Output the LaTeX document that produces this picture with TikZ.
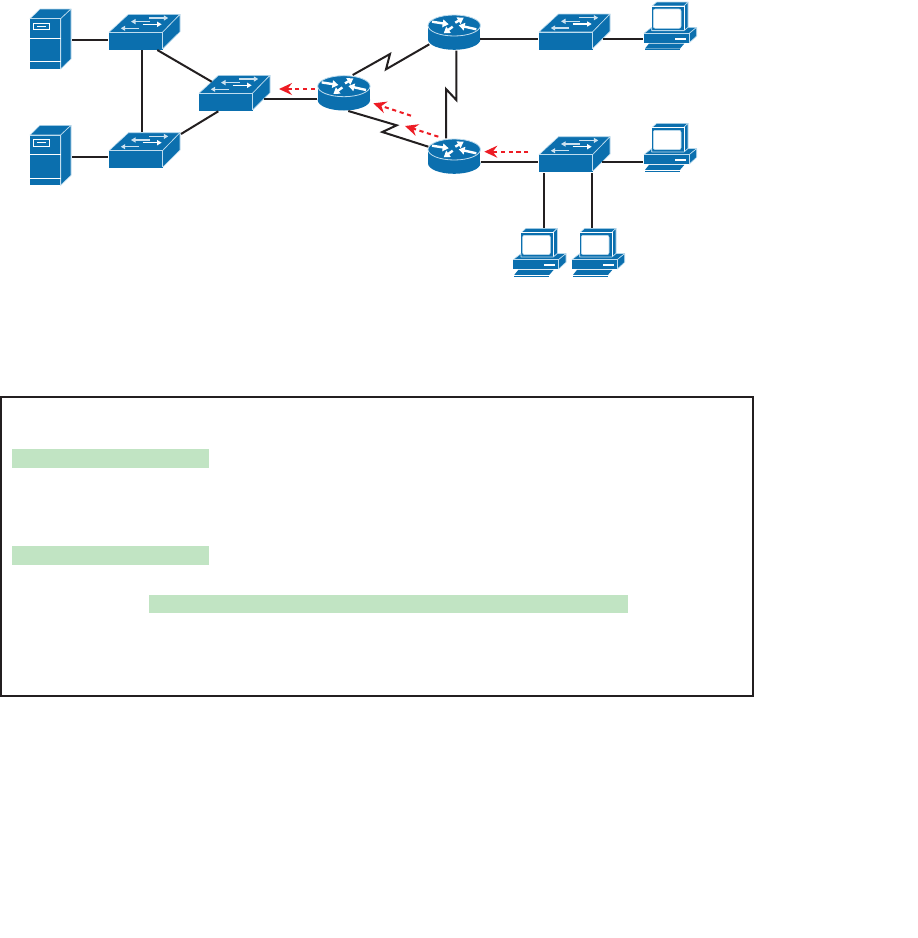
\documentclass[tikz,border=0pt]{standalone}
\usetikzlibrary{arrows.meta}
\definecolor{devblue}{HTML}{0B6FAE}
\definecolor{devedge}{HTML}{BFDDEF}
\definecolor{devfade}{HTML}{7FB4D8}
\definecolor{wire}{HTML}{231F20}
\definecolor{flowred}{HTML}{ED1C24}
\definecolor{hilite}{HTML}{C1E4C3}
\tikzset{
  face/.style={fill=devblue,draw=devedge,line width=0.6pt,line join=round},
  mark w/.style={white,line width=0.9pt},
  sarrow/.style={white,line width=1.1pt,-{Triangle[length=4.5pt,width=5pt]}},
  rarrow/.style={white,line width=2.4pt,-{Triangle[length=6pt,width=7.5pt]}},
  holder/.style={inner sep=0pt,outer sep=0pt,anchor=north west},
  switchbox/.style={holder,minimum width=71pt,minimum height=34.7pt},
  routerbox/.style={holder,minimum width=52.4pt,minimum height=34.8pt},
  serverbox/.style={holder,minimum width=41pt,minimum height=60pt},
  pcbox/.style={holder,minimum width=52.7pt,minimum height=48pt},
  link/.style={wire,line width=2pt,line join=miter},
  flow/.style={flowred,line width=2pt,dash pattern=on 4.2pt off 3.6pt,
    -{Stealth[length=13pt,width=12pt,inset=4.5pt]}},
  switchicon/.pic={
    \path[face] (0,18)--(19.5,0)--(71,0)--(53.5,18)--cycle;
    \path[face] (53.5,18)--(71,0)--(71,17.4)--(53.5,34.7)--cycle;
    \path[fill=devblue,draw=devblue,line width=0.3pt] (0,18) rectangle (53.5,34.7);
    \draw[devedge,line width=0.8pt] (0,18)--(53.5,18)--(53.5,34.7);
    \draw[sarrow,devfade!40!white] (40,3.7)--(59.3,3.7);
    \draw[sarrow,devfade!40!white] (41,7.3)--(22,7.3);
    \draw[sarrow] (33.7,10)--(52.7,10);
    \draw[sarrow,devfade!40!white] (30.3,14)--(11.7,14);
  },
  routericon/.pic={
    \path[fill=devblue] (0,10.5) rectangle (52.4,24.3);
    \path[fill=devblue] (26.2,24.3) ellipse [x radius=26.2,y radius=10.5];
    \path[fill=devblue,draw=devedge,line width=0.8pt] (26.2,10.5) ellipse [x radius=26.2,y radius=10.5];
    \draw[rarrow] (4,6.7)--(20.7,9.3);
    \draw[rarrow] (27.3,7.7)--(35.7,2.7);
    \draw[rarrow] (24.7,11.7)--(15.7,18.3);
    \draw[rarrow] (48.3,14.3)--(30.7,10.3);
  },
  servericon/.pic={
    \path[face] (0,9.7)--(10,0)--(41,0)--(30.7,9.7)--cycle;
    \path[face] (30.7,9.7)--(41,0)--(41,50)--(30.7,60)--cycle;
    \path[fill=devblue] (0,9.7) rectangle (30.7,60);
    \draw[devedge,line width=0.8pt] (0,9.7)--(30.7,9.7)--(30.7,60);
    \draw[mark w] (0,29.3)--(30.7,29.3);
    \draw[mark w] (0,52.7)--(30.7,52.7);
    \draw[mark w,line width=0.7pt] (3.3,14.3) rectangle (19.7,20.7);
    \draw[mark w,line width=0.7pt] (7.3,17.3)--(16,17.3);
  },
  pcicon/.pic={
    \path[face] (8.3,4)--(12.7,0)--(44,0)--(40,4)--cycle;
    \path[face] (40,4)--(44,0)--(44,25.3)--(40,28.7)--cycle;
    \path[fill=devblue,draw=white,line width=0.8pt] (7,4) rectangle (40,28.7);
    \path[fill=white,draw=devedge,line width=0.6pt,rounded corners=2pt] (9.3,7) rectangle (37,26.3);
    \path[face] (0,31.3)--(7.7,25.3)--(7.7,28.7)--(40,28.7)--(44,25.3)--(52.7,25.3)--(45.3,31.3)--cycle;
    \path[face] (45.3,31.3)--(52.7,25.3)--(52.7,34)--(45.3,40.7)--cycle;
    \path[fill=devblue] (0,31.3) rectangle (45.3,40.7);
    \draw[devedge,line width=0.6pt] (0,31.3)--(45.3,31.3)--(45.3,40.7);
    \path[fill=white] (31,35.7) rectangle (42,38);
    \path[fill=devblue] (5,41.6)--(40.3,41.6)--(36,46.6)--(1,46.6)--cycle;
    \draw[devblue,line width=0.9pt] (1,47.8)--(36,47.8);
  },
}
\begin{document}
\begin{tikzpicture}[x=1pt,y=-1pt]
\useasboundingbox (0,0) rectangle (918,938);
\fill[white] (0,0) rectangle (918,938);

% lower panel
\node[holder,draw=wire,line width=2pt,minimum width=752pt,minimum height=299pt] (panel) at (1,397) {};
\node[holder,fill=hilite,minimum width=197pt,minimum height=19pt] (hlone) at (12,449) {};
\node[holder,fill=hilite,minimum width=197pt,minimum height=19pt] (hltwo) at (12,546) {};
\node[holder,fill=hilite,minimum width=479pt,minimum height=18pt] (hlthree) at (149,595) {};

% devices
\node[serverbox] (srvA) at (30,9) {};
\node[serverbox] (srvB) at (30,125.3) {};
\node[switchbox] (swA) at (109,14.3) {};
\node[switchbox] (swB) at (109,132.7) {};
\node[switchbox] (swC) at (199,75.3) {};
\node[switchbox] (swD) at (539,14) {};
\node[switchbox] (swE) at (539,136.7) {};
\node[routerbox] (rtA) at (317.7,75.7) {};
\node[routerbox] (rtB) at (428,15) {};
\node[routerbox] (rtC) at (428,139) {};
\node[pcbox] (pcA) at (644,2) {};
\node[pcbox] (pcB) at (644,123.3) {};
\node[pcbox] (pcC) at (513.3,228.3) {};
\node[pcbox] (pcD) at (572,228.3) {};

\pic at (srvA.north west) {servericon};
\pic at (srvB.north west) {servericon};
\pic at (swA.north west) {switchicon};
\pic at (swB.north west) {switchicon};
\pic at (swC.north west) {switchicon};
\pic at (swD.north west) {switchicon};
\pic at (swE.north west) {switchicon};
\pic at (rtA.north west) {routericon};
\pic at (rtB.north west) {routericon};
\pic at (rtC.north west) {routericon};
\pic at (pcA.north west) {pcicon};
\pic at (pcB.north west) {pcicon};
\pic at (pcC.north west) {pcicon};
\pic at (pcD.north west) {pcicon};

% links
\draw[link] ([shift={(42,31)}]srvA.north west) -- ([shift={(-1,25.7)}]swA.north west);
\draw[link] ([shift={(42,31.7)}]srvB.north west) -- ([shift={(-1,24.3)}]swB.north west);
\draw[link] ([shift={(33,35.7)}]swA.north west) -- ([shift={(33,-0.4)}]swB.north west);
\draw[link] ([shift={(48.3,35.7)}]swA.north west) -- ([shift={(12.7,6.4)}]swC.north west);
\draw[link] ([shift={(72,1.3)}]swB.north west) -- ([shift={(19.3,36)}]swC.north west);
\draw[link] ([shift={(65.3,23.7)}]swC.north west) -- ([shift={(-1,23.3)}]rtA.north west);
\draw[link] ([shift={(35,-0.7)}]rtA.north west) -- (390,54) -- (386,69.3) -- ([shift={(1.3,29.3)}]rtB.north west);
\draw[link] ([shift={(30.6,35.3)}]rtA.north west) -- (396.7,125.3) -- (382.3,132) -- ([shift={(0.3,7.7)}]rtC.north west);
\draw[link] ([shift={(28.3,35.7)}]rtB.north west) -- (456.3,100) -- (446,89) -- ([shift={(18,-0.7)}]rtC.north west);
\draw[link] ([shift={(52.3,24)}]rtB.north west) -- ([shift={(-0.7,25)}]swD.north west);
\draw[link] ([shift={(64.3,25)}]swD.north west) -- ([shift={(-0.7,37)}]pcA.north west);
\draw[link] ([shift={(52.7,22.7)}]rtC.north west) -- ([shift={(-1,25)}]swE.north west);
\draw[link] ([shift={(63,25)}]swE.north west) -- ([shift={(-1,38.4)}]pcB.north west);
\draw[link] ([shift={(5,36.3)}]swE.north west) -- ([shift={(30.7,-0.6)}]pcC.north west);
\draw[link] ([shift={(53,36.3)}]swE.north west) -- ([shift={(20,-0.6)}]pcD.north west);

% traffic arrows
\coordinate (fa) at (315,89);   \coordinate (fb) at (279,89);
\coordinate (fc) at (411,115.7); \coordinate (fd) at (373.3,103.3);
\coordinate (fe) at (438.3,136.7); \coordinate (ff) at (405,126);
\coordinate (fg) at (528.3,151.7); \coordinate (fh) at (484.3,151.7);
\draw[flow] (fa) -- (fb);
\draw[flow] (fc) -- (fd);
\draw[flow] (fe) -- (ff);
\draw[flow] (fg) -- (fh);
\end{tikzpicture}
\end{document}
